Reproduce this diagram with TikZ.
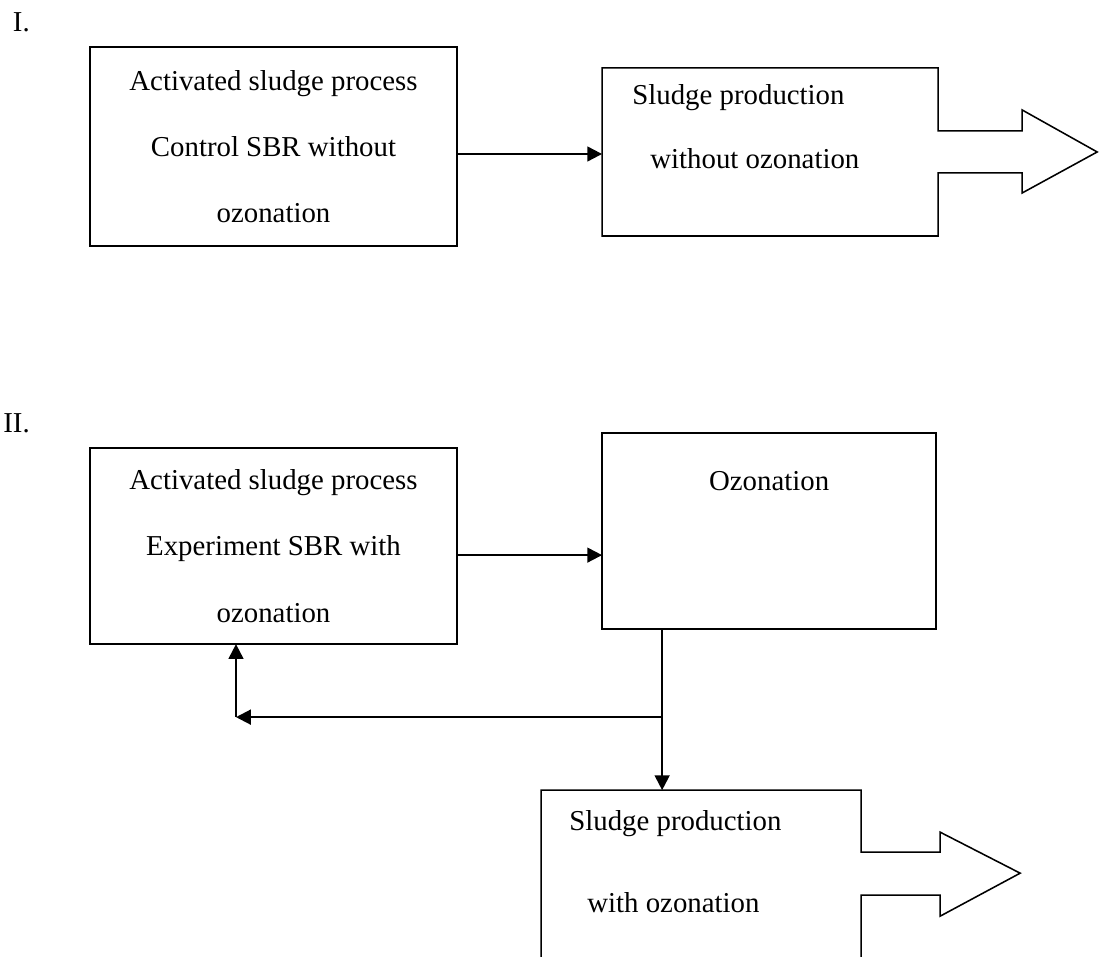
\documentclass[tikz,border=0pt]{standalone}
\usepackage{fontspec}
\setmainfont{Liberation Serif}
\usetikzlibrary{arrows.meta, positioning}

\begin{document}
\begin{tikzpicture}[x=0.025cm, y=0.025cm,
	box/.style={draw, line width=1.1pt, inner sep=0pt, outer sep=0pt, align=center, font=\fontsize{20.5}{47}\selectfont},
	shell/.style={box, draw=none},
	outline/.style={line width=1.1pt},
	txt/.style={inner sep=0pt, font=\fontsize{20.5}{24}\selectfont},
	flow/.style={->, line width=1.5pt},
	>={Triangle[length=10.5pt, width=10.5pt]}]
	\clip (0,0) rectangle (1099,956);
	% I.
	\node[txt, anchor=base east] (l1) at (30,924) {I.};
	\node[box, minimum width=9.175cm, minimum height=4.975cm] (a1) at (273.5,809.5) {Activated sludge process\\Control SBR without\\ozonation};
	\node[shell, minimum width=8.4cm, minimum height=4.2cm, right=3.625cm of a1, yshift=-0.1375cm] (b1) {};
	\draw[outline] (b1.north west) -- (b1.north east) -- ++(0,-63) -- ++(84,0) -- ++(0,21) -- ++(75,-42) -- ++(-75,-41) -- ++(0,20) -- ++(-84,0) -- (b1.south east) -- (b1.south west) -- cycle;
	\node[txt, anchor=base west] (b1t) at ([shift={(30,-37)}]b1.north west) {Sludge production};
	\node[txt, anchor=base west] (b1u) at ([shift={(48,-101)}]b1.north west) {without ozonation};
	\coordinate (e1) at ([shift={(0,-7.5)}]a1.east);
	\draw[flow] (e1) -- (e1 -| b1.west);
	% II.
	\node[txt, anchor=base east] (l2) at (30,523) {II.};
	\node[box, minimum width=9.175cm, minimum height=4.9cm, below=5.05cm of a1] (a2) {Activated sludge process\\Experiment SBR with\\ozonation};
	\node[box, minimum width=8.35cm, minimum height=4.9cm, right=3.625cm of a2, yshift=0.375cm] (o2) {};
	\node[txt, anchor=base] (o2t) at ([shift={(0,-57)}]o2.north) {Ozonation};
	\node[shell, minimum width=8cm, minimum height=4.75cm, below=4.025cm of o2, xshift=-1.7cm] (s2) {};
	\draw[outline] (s2.north west) -- (s2.north east) -- ++(0,-62) -- ++(79,0) -- ++(0,20) -- ++(80,-41) -- ++(-80,-43) -- ++(0,21) -- ++(-79,0) -- (s2.south east) -- (s2.south west) -- cycle;
	\node[txt, anchor=base west] (s2t) at ([shift={(28,-40)}]s2.north west) {Sludge production};
	\node[txt, anchor=base west] (s2u) at ([shift={(46,-122)}]s2.north west) {with ozonation};
	\coordinate (e2) at ([shift={(0,-9)}]a2.east);
	\draw[flow] (e2) -- (e2 -| o2.west);
	\coordinate (jn) at ([shift={(-107,-88)}]o2.south);
	\coordinate (bx) at ([shift={(-37.5,0)}]a2.south);
	\coordinate (bk) at (bx |- jn);
	\draw[flow] (o2.south -| jn) -- (s2.north -| jn);
	\draw[flow] (jn) -- (bk);
	\draw[flow] (bk) -- (bx);
\end{tikzpicture}
\end{document}
